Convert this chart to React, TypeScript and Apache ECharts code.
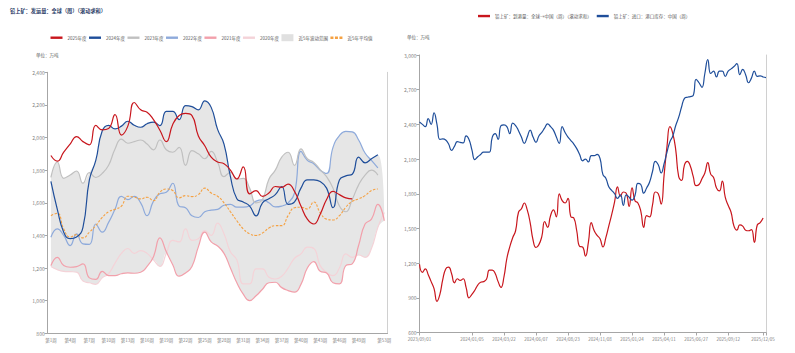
import React, { useEffect, useRef } from "react";
import * as echarts from "echarts";

// ---------- Left chart: weekly categories ----------
const weekLabels: string[] = Array.from({ length: 53 }, (_, i) => `第${i + 1}周`);

const y2025: (number | null)[] = [1890, 1855, 1910, 1960, 2006, 1975, 1955, 2075, 2047, 2055, 2140, 2015, 2070, 2215, 2170, 2155, 2110, 2045, 1975, 2080, 2135, 2148, 2135, 2010, 1950, 1880, 1850, 1840, 1800, 1746, 1820, 1655, 1675, 1640, 1660, 1700, 1695, 1715, 1670, 1580, 1500, 1470, 1530, 1620, 1670, 1650, 1630, 1624];
const y2024: (number | null)[] = [1732, 1560, 1420, 1380, 1390, 1450, 1740, 1860, 2040, 2075, 2053, 2070, 2100, 2075, 2063, 2085, 2095, 2073, 2160, 2160, 2110, 2196, 2190, 2170, 2225, 2185, 2050, 1960, 1760, 1625, 1605, 1580, 1520, 1600, 1625, 1650, 1700, 1590, 1605, 1690, 1740, 1740, 1730, 1690, 1570, 1740, 1765, 1775, 1880, 1845, 1870, 1895];
const y2023: (number | null)[] = [1756, 1850, 1750, 1770, 1795, 1720, 1785, 1755, 1780, 1830, 1930, 1990, 1965, 1975, 1985, 1960, 1925, 1985, 1925, 1910, 1940, 1830, 1920, 1900, 1870, 1915, 1850, 1760, 1787, 1745, 1750, 1690, 1600, 1620, 1745, 1800, 1880, 1910, 1830, 1930, 1870, 1848, 1803, 1760, 1690, 1580, 1545, 1620, 1710, 1770, 1800, 1770];
const y2022: (number | null)[] = [1389, 1440, 1400, 1338, 1409, 1348, 1345, 1470, 1420, 1480, 1560, 1640, 1620, 1640, 1600, 1521, 1610, 1655, 1664, 1720, 1580, 1570, 1520, 1510, 1545, 1555, 1560, 1585, 1590, 1573, 1573, 1580, 1610, 1618, 1600, 1575, 1580, 1600, 1660, 1915, 1860, 1840, 1800, 1780, 1940, 2012, 2038, 2035, 1985, 1905, 1860, 1814];
const y2021: (number | null)[] = [1215, 1266, 1215, 1205, 1209, 1225, 1140, 1130, 1180, 1154, 1154, 1165, 1170, 1168, 1174, 1210, 1270, 1385, 1300, 1220, 1150, 1170, 1210, 1330, 1420, 1360, 1335, 1290, 1200, 1110, 1040, 1000, 1030, 1070, 1110, 1113, 1080, 1062, 1052, 1100, 1200, 1240, 1180, 1170, 1110, 1103, 1215, 1226, 1340, 1470, 1500, 1590, 1490];
const y2020: (number | null)[] = [1210, 1190, 1180, 1178, 1175, 1120, 1110, 1100, 1140, 1165, 1230, 1290, 1320, 1290, 1307, 1290, 1250, 1210, 1290, 1370, 1360, 1440, 1370, 1380, 1430, 1400, 1475, 1410, 1300, 1250, 1103, 1103, 1195, 1195, 1144, 1133, 1150, 1200, 1260, 1287, 1328, 1320, 1215, 1174, 1154, 1200, 1287, 1266, 1280, 1266, 1320, 1450, 1540];
const avg5: (number | null)[] = [1521, 1536, 1440, 1390, 1405, 1385, 1420, 1460, 1510, 1545, 1560, 1580, 1640, 1634, 1624, 1634, 1613, 1665, 1685, 1675, 1630, 1644, 1638, 1650, 1690, 1660, 1640, 1600, 1545, 1490, 1440, 1410, 1400, 1415, 1445, 1460, 1460, 1521, 1570, 1573, 1562, 1605, 1540, 1500, 1495, 1521, 1573, 1609, 1624, 1644, 1675, 1685];

const leftYTicks = { min: 800, max: 2400, step: 200 };

// ---------- Right chart: weekly dates ----------
const dateLabels: string[] = (() => {
  const out: string[] = [];
  const start = Date.UTC(2023, 8, 1);
  for (let i = 0; i < 120; i++) {
    const d = new Date(start + i * 7 * 86400000);
    out.push(`${d.getUTCFullYear()}/${String(d.getUTCMonth() + 1).padStart(2, "0")}/${String(d.getUTCDate()).padStart(2, "0")}`);
  }
  return out;
})();
const dateLabelIdx = [0, 18, 29, 40, 51, 62, 73, 84, 95, 106, 118];

const arrivals: number[] = [1190, 1120, 1150, 1100, 1040, 980, 870, 930, 1060, 1150, 1165, 1110, 1030, 1065, 1050, 1065, 990, 900, 930, 965, 1010, 1035, 1040, 1060, 1140, 1140, 1110, 1040, 990, 1080, 1240, 1340, 1420, 1480, 1640, 1670, 1720, 1660, 1550, 1400, 1335, 1360, 1430, 1560, 1510, 1610, 1660, 1600, 1800, 1740, 1720, 1760, 1600, 1590, 1480, 1345, 1340, 1260, 1380, 1550, 1480, 1440, 1410, 1340, 1420, 1520, 1620, 1730, 1860, 1780, 1815, 1805, 1690, 1850, 1740, 1720, 1650, 1510, 1610, 1600, 1700, 1815, 1800, 1710, 1960, 2210, 2380, 2320, 2180, 1950, 1915, 2050, 2080, 2040, 1950, 1870, 1880, 1930, 1980, 2070, 1970, 1940, 1850, 1825, 1910, 1770, 1700, 1640, 1520, 1485, 1530, 1520, 1485, 1480, 1490, 1380, 1530, 1550, 1590];
const inventory: number[] = [2420, 2400, 2380, 2450, 2400, 2500, 2400, 2270, 2275, 2265, 2230, 2175, 2210, 2250, 2245, 2240, 2300, 2270, 2180, 2095, 2120, 2140, 2160, 2160, 2160, 2290, 2320, 2270, 2390, 2395, 2380, 2320, 2410, 2390, 2345, 2290, 2235, 2290, 2350, 2290, 2245, 2300, 2330, 2370, 2405, 2380, 2350, 2290, 2235, 2380, 2330, 2290, 2260, 2230, 2190, 2140, 2085, 2100, 2075, 2130, 2130, 2140, 2105, 1965, 1935, 1860, 1830, 1800, 1760, 1790, 1700, 1790, 1770, 1745, 1785, 1890, 1880, 1805, 1850, 1900, 1990, 2080, 2050, 1980, 2060, 2160, 2250, 2300, 2390, 2460, 2550, 2625, 2635, 2640, 2650, 2790, 2760, 2720, 2840, 2960, 2840, 2860, 2810, 2860, 2860, 2815, 2860, 2880, 2900, 2925, 2830, 2875, 2830, 2760, 2800, 2860, 2815, 2820, 2810, 2805];

const rightYTicks = { min: 600, max: 3000, step: 300 };

const FONT = "'Noto Sans CJK SC', 'Noto Sans', sans-serif";
const C = {
  y2025: "#c8161d",
  y2024: "#1f4e9a",
  y2023: "#c0c0c0",
  y2022: "#8eaadb",
  y2021: "#f2a0ab",
  y2020: "#f4d3d8",
  band: "#e6e6e6",
  avg: "#f5a142",
  axis: "#a6a6a6",
  label: "#7f7f7f",
};

const LINE_ICON = "path://M0,0h12v2.4h-12z";
const DASH_ICON = "path://M0,0h3v2.4h-3z M4.5,0h3v2.4h-3z M9,0h3v2.4h-3z";

export default function App() {
  const ref = useRef<HTMLDivElement>(null);
  useEffect(() => {
    if (!ref.current) return;
    const chart = echarts.init(ref.current, undefined, { renderer: "svg" });

    const years = [y2020, y2021, y2022, y2023, y2024];
    const bandLow = weekLabels.map((_, i) => {
      const v = years.map((a) => a[i]).filter((x) => x != null) as number[];
      return v.length ? Math.min(...v) : null;
    });
    const bandRange = weekLabels.map((_, i) => {
      const v = years.map((a) => a[i]).filter((x) => x != null) as number[];
      return v.length ? Math.max(...v) - Math.min(...v) : null;
    });

    const fmt = (v: number) => v.toLocaleString("en-US");
    const yearLine = (name: string, data: (number | null)[], color: string, z: number) => ({
      name,
      type: "line",
      xAxisIndex: 0,
      yAxisIndex: 0,
      data,
      smooth: 0.5,
      symbol: "none",
      color,
      lineStyle: { color, width: 1.2 },
      z,
    });

    const leftLabelShow = (i: number) => (i % 3 === 0 && i !== 51) || i === 52;

    chart.setOption({
      animation: false,
      textStyle: { fontFamily: FONT },
      title: {
        text: "铅上矿：发运量：全球（周）（滚动求和）",
        left: 10,
        top: 7.5,
        padding: 0,
        textStyle: { fontSize: 5.2, fontWeight: "bold", color: "#1f3864", fontFamily: FONT },
      },
      legend: [
        {
          left: 50.5,
          top: 34.2,
          padding: 0,
          itemWidth: 12,
          itemHeight: 7,
          itemGap: 2.5,
          textStyle: { fontSize: 4.5, color: "#595959", fontFamily: FONT },
          data: [
            { name: "2025年度", icon: LINE_ICON },
            { name: "2024年度", icon: LINE_ICON },
            { name: "2023年度", icon: LINE_ICON },
            { name: "2022年度", icon: LINE_ICON },
            { name: "2021年度", icon: LINE_ICON },
            { name: "2020年度", icon: LINE_ICON },
            { name: "近5年波动范围", icon: "rect", itemStyle: { color: "#e0e0e0" } },
            { name: "近5年平均值", icon: DASH_ICON },
          ],
        },
        {
          left: 478,
          top: 13.8,
          padding: 0,
          itemWidth: 12,
          itemHeight: 7,
          itemGap: 5,
          textStyle: { fontSize: 4.5, color: "#595959", fontFamily: FONT },
          data: [
            { name: "铅上矿：到港量：全球→中国（周）（滚动求和）", icon: LINE_ICON },
            { name: "铅上矿：进口：港口库存：中国（周）", icon: LINE_ICON },
          ],
        },
      ],
      graphic: [
        { type: "text", left: 36, top: 53, style: { text: "单位：万吨", fontSize: 4.5, fill: "#595959", fontFamily: FONT } },
        { type: "text", left: 407, top: 35, style: { text: "单位：万吨", fontSize: 4.5, fill: "#595959", fontFamily: FONT } },
      ],
      grid: [
        { left: 47.7, right: 407.5, top: 72.3, bottom: 19.7 },
        { left: 419.5, right: 29, top: 55, bottom: 20.5 },
      ],
      xAxis: [
        {
          type: "category",
          gridIndex: 0,
          data: weekLabels,
          boundaryGap: true,
          axisLine: { lineStyle: { color: C.axis, width: 1 } },
          axisTick: { interval: 2, length: 3, lineStyle: { color: C.axis } },
          axisLabel: { interval: (i: number) => leftLabelShow(i), fontSize: 4.5, color: C.label, margin: 4, fontFamily: FONT },
          splitLine: { show: false },
        },
        {
          type: "category",
          gridIndex: 1,
          data: dateLabels,
          boundaryGap: false,
          axisLine: { lineStyle: { color: C.axis, width: 1 } },
          axisTick: { interval: (i: number) => dateLabelIdx.includes(i) || i === 119, length: 3, lineStyle: { color: C.axis } },
          axisLabel: { interval: (i: number) => dateLabelIdx.includes(i), fontSize: 4.5, color: C.label, margin: 4, fontFamily: FONT },
          splitLine: { show: false },
        },
      ],
      yAxis: [
        {
          type: "value",
          gridIndex: 0,
          min: leftYTicks.min,
          max: leftYTicks.max,
          interval: leftYTicks.step,
          axisLine: { show: true, lineStyle: { color: C.axis } },
          axisTick: { show: true, length: 3, lineStyle: { color: C.axis } },
          axisLabel: { fontSize: 5, color: C.label, margin: 3, formatter: fmt, fontFamily: FONT },
          splitLine: { show: false },
        },
        {
          type: "value",
          gridIndex: 0,
          position: "right",
          min: leftYTicks.min,
          max: leftYTicks.max,
          interval: leftYTicks.step,
          axisLine: { show: true, lineStyle: { color: "#d0d0d0" } },
          axisTick: { show: false },
          axisLabel: { show: false },
          splitLine: { show: false },
        },
        {
          type: "value",
          gridIndex: 1,
          min: rightYTicks.min,
          max: rightYTicks.max,
          interval: rightYTicks.step,
          axisLine: { show: true, lineStyle: { color: C.axis } },
          axisTick: { show: true, length: 3, lineStyle: { color: C.axis } },
          axisLabel: { fontSize: 5, color: C.label, margin: 3, formatter: fmt, fontFamily: FONT },
          splitLine: { show: false },
        },
        {
          type: "value",
          gridIndex: 1,
          position: "right",
          min: rightYTicks.min,
          max: rightYTicks.max,
          interval: rightYTicks.step,
          axisLine: { show: true, lineStyle: { color: "#d0d0d0" } },
          axisTick: { show: false },
          axisLabel: { show: false },
          splitLine: { show: false },
        },
      ],
      series: [
        {
          name: "bandBase",
          type: "line",
          xAxisIndex: 0,
          yAxisIndex: 0,
          data: bandLow,
          stack: "band",
          smooth: 0.5,
          symbol: "none",
          lineStyle: { opacity: 0 },
          silent: true,
          z: 1,
        },
        {
          name: "近5年波动范围",
          type: "line",
          xAxisIndex: 0,
          yAxisIndex: 0,
          data: bandRange,
          stack: "band",
          smooth: 0.5,
          symbol: "none",
          color: "#e0e0e0",
          lineStyle: { opacity: 0 },
          areaStyle: { color: C.band, opacity: 1 },
          silent: true,
          z: 1,
        },
        yearLine("2020年度", y2020, C.y2020, 2),
        yearLine("2021年度", y2021, C.y2021, 3),
        yearLine("2022年度", y2022, C.y2022, 4),
        yearLine("2023年度", y2023, C.y2023, 5),
        {
          name: "近5年平均值",
          type: "line",
          xAxisIndex: 0,
          yAxisIndex: 0,
          data: avg5,
          smooth: 0.5,
          symbol: "none",
          color: C.avg,
          lineStyle: { color: C.avg, width: 1.1, type: [2.5, 1.5] },
          z: 6,
        },
        yearLine("2024年度", y2024, C.y2024, 7),
        yearLine("2025年度", y2025, C.y2025, 8),
        {
          name: "铅上矿：到港量：全球→中国（周）（滚动求和）",
          type: "line",
          xAxisIndex: 1,
          yAxisIndex: 2,
          data: arrivals,
          smooth: 0.5,
          symbol: "none",
          color: C.y2025,
          lineStyle: { color: C.y2025, width: 1.2 },
        },
        {
          name: "铅上矿：进口：港口库存：中国（周）",
          type: "line",
          xAxisIndex: 1,
          yAxisIndex: 2,
          data: inventory,
          smooth: 0.5,
          symbol: "none",
          color: C.y2024,
          lineStyle: { color: C.y2024, width: 1.2 },
        },
      ],
    });

    return () => chart.dispose();
  }, []);

  return (
    <div
      ref={ref}
      style={{ position: "fixed", left: 0, top: 0, width: 795, height: 353, background: "#ffffff" }}
    />
  );
}
